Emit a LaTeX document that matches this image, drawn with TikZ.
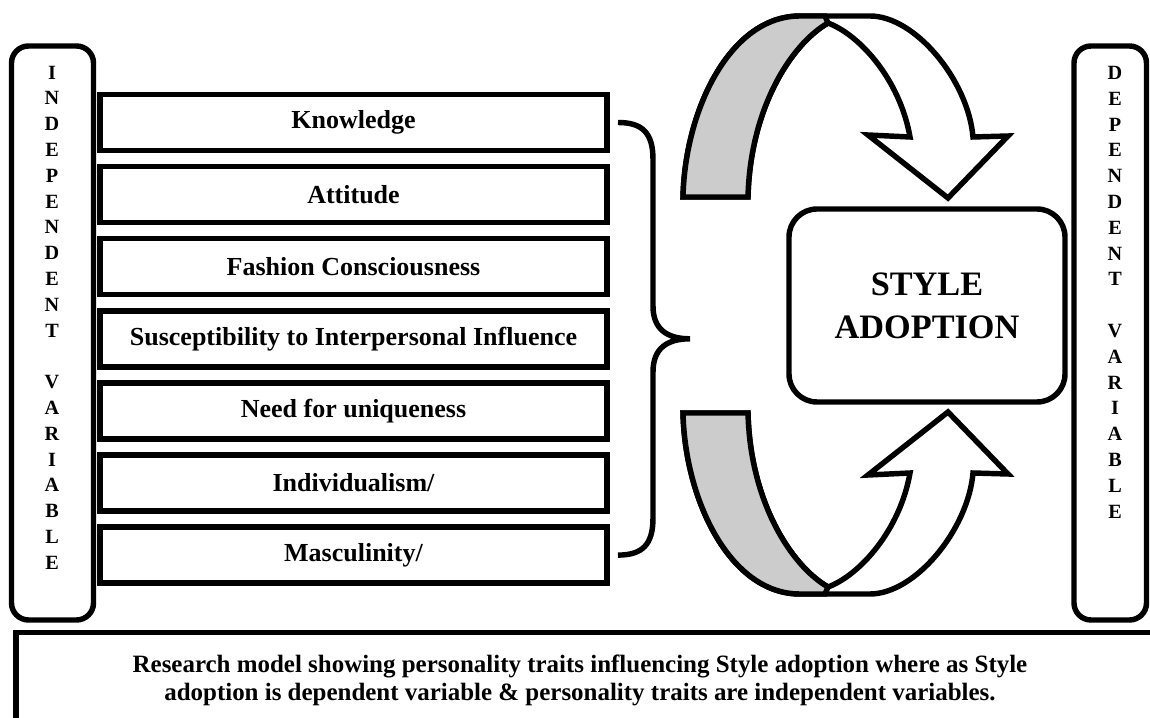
\documentclass[tikz,border=0pt]{standalone}
\usepackage{fontspec}
\setmainfont{Liberation Serif}

\begin{document}
\begin{tikzpicture}[
  thickline/.style={line width=3.1pt},
  varbox/.style={draw, thickline, rounded corners=0.34cm},
  varletters/.style={align=center, inner sep=0pt, anchor=north, font=\bfseries\fontsize{11.5}{14.68}\selectfont},
  traitbox/.style={draw, thickline, minimum width=10.14cm, minimum height=1.12cm, inner sep=0pt, font=\bfseries\fontsize{14.8}{17}\selectfont},
  ribbon/.style={thickline, line join=miter}
]
\useasboundingbox (0,0) rectangle (23,14.34);

% the two variable columns
\draw[varbox] (0.23,1.94) rectangle (1.87,13.42);
\draw[varbox] (21.48,1.94) rectangle (22.93,13.42);
\node[varletters] (indep) at (1.04,13.03) {I\\N\\D\\E\\P\\E\\N\\D\\E\\N\\T\\[14.68pt]V\\A\\R\\I\\A\\B\\L\\E};
\node[varletters] (dep) at (22.3,13.02) {D\\E\\P\\E\\N\\D\\E\\N\\T\\[14.68pt]V\\A\\R\\I\\A\\B\\L\\E};

% personality traits
\foreach \txt [count=\i] in {Knowledge, Attitude, Fashion Consciousness,
    Susceptibility to Interpersonal Influence, Need for uniqueness,
    Individualism/, Masculinity/}
  \node[traitbox] (trait\i) at (7.07,13.332-1.442*\i) {\txt};

% brace gathering the traits
\draw[thickline] (12.36,11.89) .. controls (12.85,11.89) and (13.06,11.68) .. (13.06,11.15)
  -- (13.06,8.22) .. controls (13.06,7.75) and (13.35,7.564) .. (13.8,7.564)
  .. controls (13.35,7.564) and (13.06,7.38) .. (13.06,6.9)
  -- (13.06,3.98) .. controls (13.06,3.45) and (12.85,3.238) .. (12.36,3.238);

% dependent variable
\node[draw, thickline, rounded corners=0.56cm, minimum width=5.52cm, minimum height=3.86cm,
  align=center, font=\bfseries\fontsize{19.5}{24.4}\selectfont] (style) at (18.54,8.23) {STYLE\\ADOPTION};

% curved arrows, the lower one mirrored
\foreach \ys/\yt in {1/0, -1/16.48} {
\begin{scope}[yshift=\yt cm, yscale=\ys]
\filldraw[ribbon, fill=white] (13.66,10.4) .. controls (13.7,12.14) and (14.6,14.02) .. (16.0,14.02)
  -- (17.4,14.02) .. controls (18.3,14.02) and (19.36,12.74) .. (19.46,11.6)
  -- (20.16,11.62) -- (18.96,10.38) -- (17.36,11.64) -- (18.2,11.6)
  .. controls (18.0,12.74) and (17.2,13.64) .. (16.56,13.88)
  .. controls (15.8,13.44) and (15.0,12.14) .. (14.96,10.4) -- cycle;
\filldraw[ribbon, fill=black!20] (13.66,10.4) .. controls (13.7,12.14) and (14.6,14.02) .. (16.0,14.02)
  -- (16.5,14.02) -- (16.56,13.88)
  .. controls (15.8,13.44) and (15.0,12.14) .. (14.96,10.4) -- cycle;
\end{scope}
}

% caption strip
\draw[thickline] (0.32,-0.2) -- (0.32,1.69) -- (23.3,1.69);
\node[align=center, font=\bfseries\fontsize{14.2}{15.9}\selectfont] (caption) at (11.6,0.74)
  {Research model showing personality traits influencing Style adoption where as Style\\
   adoption is dependent variable \& personality traits are independent variables.};
\end{tikzpicture}
\end{document}
